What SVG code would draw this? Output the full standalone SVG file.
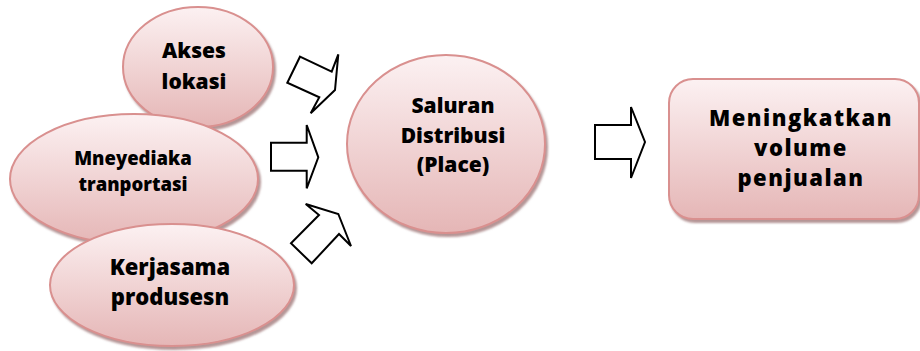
<svg xmlns="http://www.w3.org/2000/svg" width="920" height="351" viewBox="0 0 920 351">
  <style>
    .node { fill: url(#pinkFill); stroke: #d9908f; stroke-width: 2; filter: url(#dropShadow); }
    .label { font-family: "Open Sans", "Liberation Sans", sans-serif; font-weight: 800; fill: #000; text-anchor: middle; }
    .arrow { fill: #fff; stroke: #000; stroke-width: 2; stroke-linejoin: miter; }
  </style>
  <defs>
    <linearGradient id="pinkFill" x1="0" y1="0" x2="0" y2="1">
      <stop offset="0" stop-color="#fcf1f2"/>
      <stop offset="1" stop-color="#e5b6b6"/>
    </linearGradient>
    <filter id="dropShadow" x="-10%" y="-10%" width="125%" height="130%">
      <feGaussianBlur in="SourceAlpha" stdDeviation="1"/>
      <feOffset dx="2" dy="3" result="blur"/>
      <feFlood flood-color="#9c7273" flood-opacity="0.75"/>
      <feComposite in2="blur" operator="in" result="shadow"/>
      <feMerge>
        <feMergeNode in="shadow"/>
        <feMergeNode in="SourceGraphic"/>
      </feMerge>
    </filter>
  </defs>

  <!-- source nodes -->
  <g id="akses-lokasi">
    <ellipse class="node" cx="198" cy="67" rx="75" ry="60"/>
    <text class="label" font-size="21"><tspan x="194" y="58">Akses</tspan><tspan x="194" y="89">lokasi</tspan></text>
  </g>
  <g id="menyediakan-transportasi">
    <ellipse class="node" cx="134" cy="179" rx="124" ry="65"/>
    <text class="label" font-size="18.5"><tspan x="133" y="165">Mneyediaka</tspan><tspan x="133" y="191">tranportasi</tspan></text>
  </g>
  <g id="kerjasama-produsen">
    <ellipse class="node" cx="172" cy="285" rx="122" ry="61"/>
    <text class="label" font-size="22"><tspan x="170" y="275">Kerjasama</tspan><tspan x="170" y="305">produsesn</tspan></text>
  </g>

  <!-- central node -->
  <g id="saluran-distribusi">
    <ellipse class="node" cx="446" cy="144" rx="99" ry="89"/>
    <text class="label" font-size="21"><tspan x="453" y="113">Saluran</tspan><tspan x="453" y="143">Distribusi</tspan><tspan x="453" y="172">(Place)</tspan></text>
  </g>

  <!-- result node -->
  <g id="volume-penjualan">
    <rect class="node" x="669" y="79" width="250" height="140" rx="24" ry="24"/>
    <text class="label" font-size="22" letter-spacing="1.5"><tspan x="801" y="126">Meningkatkan</tspan><tspan x="801" y="156">volume</tspan><tspan x="801" y="186">penjualan</tspan></text>
  </g>

  <!-- block arrows -->
  <g id="connectors">
    <polygon class="arrow" points="300,56.7 331.7,71.7 338.3,54.3 335,90 310.7,113.3 319.3,97.3 287.3,82.7"/>
    <polygon class="arrow" points="271,142.7 306.7,142.7 306.7,125 318.3,157.3 306.7,188.3 306.7,170.7 271,170.7"/>
    <polygon class="arrow" points="305.7,204 338.3,214 351,246 339,234 311.7,263.3 291,243.3 319,215"/>
    <polygon class="arrow" points="595,125 631,125 631,107 645,142 631,178 631,159 595,159"/>
  </g>
</svg>
